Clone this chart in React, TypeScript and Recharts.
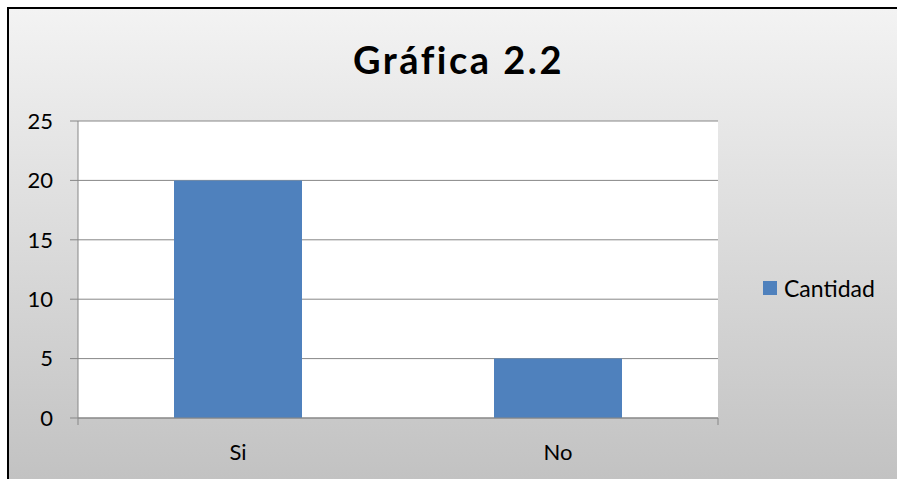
import React from 'react'
import { BarChart, Bar, XAxis, YAxis, CartesianGrid } from 'recharts'

const categories = ['Si', 'No']
const cantidad = [20, 5]
const yTicks = [0, 5, 10, 15, 20, 25]
const edgeTicks = [0, 1, 2]

const data = categories.map((c, i) => ({ name: c, cantidad: cantidad[i] }))

const FONT = 'Lato, "Open Sans", sans-serif'
const AXIS = '#878787'

export default function App() {
  return (
    <div style={{ position: 'absolute', left: 0, top: 0, width: 897, height: 479, overflow: 'hidden', background: '#fff' }}>
      <div
        style={{
          position: 'absolute', left: 7, top: 7, width: 1000, height: 600,
          borderLeft: '2px solid #000', borderTop: '2px solid #000',
          background: 'linear-gradient(to bottom, #f3f3f3 0%, #c2c2c2 470px)',
        }}
      />
      <div
        style={{
          position: 'absolute', left: 0, width: 917, top: 35, textAlign: 'center',
          fontFamily: FONT, fontWeight: 700, fontSize: 38, letterSpacing: 2.5, color: '#000',
          lineHeight: '48px',
        }}
      >
        Gráfica 2.2
      </div>
      <div style={{ position: 'absolute', left: 0, top: 0 }}>
        <BarChart
          width={897}
          height={479}
          data={data}
          margin={{ top: 121, right: 179, bottom: 13, left: 38 }}
          barCategoryGap="30%"
        >
          <CartesianGrid xAxisId="a" vertical={false} stroke={AXIS} fill="#ffffff" />
          <XAxis
            xAxisId="a"
            type="number"
            domain={[0, 2]}
            ticks={edgeTicks}
            tickFormatter={() => ''}
            tickSize={7}
            height={8}
            stroke={AXIS}
          />
          <XAxis
            xAxisId="b"
            dataKey="name"
            axisLine={false}
            tickLine={false}
            tickMargin={12}
            height={40}
            tick={{ fontFamily: FONT, fontSize: 22, fill: '#000' }}
          />
          <YAxis
            domain={[0, 25]}
            ticks={yTicks}
            width={40}
            tickSize={8}
            tickMargin={17}
            stroke={AXIS}
            tick={{ fontFamily: FONT, fontSize: 22, fill: '#000' }}
          />
          <Bar xAxisId="b" dataKey="cantidad" name="Cantidad" fill="#4f81bd" isAnimationActive={false} />
        </BarChart>
      </div>
      <div
        style={{
          position: 'absolute', left: 763, top: 274, display: 'flex', alignItems: 'center', gap: 7,
          fontFamily: FONT, fontSize: 23, color: '#000',
        }}
      >
        <span style={{ width: 14, height: 14, background: '#4f81bd', display: 'inline-block' }} />
        <span>Cantidad</span>
      </div>
    </div>
  )
}
